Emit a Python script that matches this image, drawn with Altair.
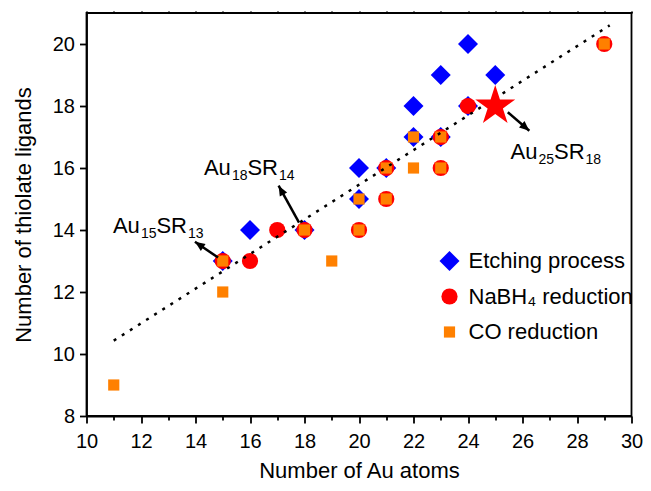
import math
import altair as alt
import pandas as pd

# ---------------- data ----------------
etch_x = [15, 16, 18, 20, 20, 21, 22, 22, 23, 23, 24, 24, 25]
etch_y = [13, 14, 14, 15, 16, 16, 17, 18, 17, 19, 18, 20, 19]

nabh4_x = [15, 16, 17, 18, 20, 21, 21, 23, 23, 24, 29]
nabh4_y = [13, 13, 14, 14, 14, 15, 16, 16, 17, 18, 20]

co_x = [11, 15, 15, 18, 19, 20, 20, 21, 21, 22, 22, 23, 23, 29]
co_y = [9, 12, 13, 14, 13, 14, 15, 15, 16, 16, 17, 16, 17, 20]

series_names = ["Etching process", "NaBH\u2084 reduction", "CO reduction"]
series_colors = ["#0000FF", "#FF0000", "#FF8000"]
series_shapes = ["diamond", "circle", "square"]
series_sizes = [400, 125, 88]

star_x = [25]
star_y = [18]

fit_x = [11, 29.2]
fit_y = [10.43, 20.6]

ann_x = [10.97, 14.31, 25.56]
ann_y = [13.89, 15.78, 16.29]
ann_au = ["15", "18", "25"]
ann_sr = ["13", "14", "18"]

arr_x1 = [14.83, 17.80, 25.46]
arr_y1 = [13.11, 14.24, 17.80]
arr_x2 = [13.98, 17.05, 26.25]
arr_y2 = [13.62, 15.43, 17.20]

x_ticks = list(range(10, 31))
y_ticks = list(range(8, 21))

# ---------------- layout ----------------
W, H = 545, 403
XDOM = [10, 30]
YDOM = [8, 21]
FONT = "Liberation Sans"

pts = pd.concat([
    pd.DataFrame({"x": etch_x, "y": etch_y, "series": series_names[0]}),
    pd.DataFrame({"x": nabh4_x, "y": nabh4_y, "series": series_names[1]}),
    pd.DataFrame({"x": co_x, "y": co_y, "series": series_names[2]}),
], ignore_index=True)

fit = pd.DataFrame({"x": fit_x, "y": fit_y})
star = pd.DataFrame({"x": star_x, "y": star_y})
ann = pd.DataFrame({"x": ann_x, "y": ann_y, "au": ann_au, "sr": ann_sr,
                    "A": "Au", "S": "SR"})

pxx = W / (XDOM[1] - XDOM[0])
pxy = H / (YDOM[1] - YDOM[0])
angles = []
for a, b, c, d in zip(arr_x1, arr_y1, arr_x2, arr_y2):
    dxp = (c - a) * pxx
    dyp = -(d - b) * pxy
    angles.append(math.degrees(math.atan2(dxp, -dyp)) % 360)
arr = pd.DataFrame({"x1": arr_x1, "y1": arr_y1, "x2": arr_x2, "y2": arr_y2,
                    "ang": angles})

xs = alt.Scale(domain=XDOM, nice=False, zero=False)
ys = alt.Scale(domain=YDOM, nice=False, zero=False)

even_size = {"condition": {"test": "datum.value % 2 === 0", "value": 7}, "value": 4}

x_bottom = alt.X("x:Q", scale=xs, axis=alt.Axis(
    orient="bottom", values=x_ticks, title="Number of Au atoms",
    labelExpr="datum.value % 2 === 0 ? datum.label : ''",
    tickSize=even_size, labelPadding=8, titlePadding=9,
    labelOverlap=False, labelFlush=False))
x_top = alt.X("x:Q", scale=xs, axis=alt.Axis(
    orient="top", values=x_ticks, labels=False, title=None, tickSize=2,
    domain=False))
x_none = alt.X("x:Q", scale=xs, axis=None)
y_left = alt.Y("y:Q", scale=ys, axis=alt.Axis(
    orient="left", values=y_ticks, title="Number of thiolate ligands",
    labelExpr="datum.value % 2 === 0 ? datum.label : ''",
    tickSize=even_size, labelPadding=5, titlePadding=17,
    labelOverlap=False, labelFlush=False))

legend = alt.Legend(orient="none", legendX=352, legendY=237, title=None,
                    labelFont=FONT, labelFontSize=22, labelColor="black",
                    labelOffset=8, rowPadding=13.5, symbolOpacity=1, padding=0,
                    symbolStrokeWidth=0, labelLimit=400)

points = alt.Chart(pts).mark_point(filled=True, opacity=1, strokeWidth=0).encode(
    x=x_bottom, y=y_left,
    color=alt.Color("series:N", scale=alt.Scale(domain=series_names, range=series_colors), legend=legend),
    shape=alt.Shape("series:N", scale=alt.Scale(domain=series_names, range=series_shapes), legend=legend),
    size=alt.Size("series:N", scale=alt.Scale(domain=series_names, range=series_sizes), legend=legend),
)

line = alt.Chart(fit).mark_line(color="black", strokeDash=[3, 6.6], strokeWidth=2.5).encode(
    x=x_top, y=y_left)

STAR = ("M0,-1L0.2245,-0.309L0.9511,-0.309L0.3633,0.118L0.5878,0.809L0,0.382"
        "L-0.5878,0.809L-0.3633,0.118L-0.9511,-0.309L-0.2245,-0.309Z")
star_l = alt.Chart(star).mark_point(shape=STAR, filled=True, color="#FF0000",
                                    size=1764, opacity=1, strokeWidth=0).encode(
    x=x_none, y=y_left)

rules = alt.Chart(arr).mark_rule(color="black", strokeWidth=2.5).encode(
    x=alt.X("x1:Q", scale=xs, axis=None), y=alt.Y("y1:Q", scale=ys),
    x2="x2:Q", y2="y2:Q")

HEAD = "M0,0L-0.42,1L0.42,1Z"
heads = alt.Chart(arr).mark_point(shape=HEAD, filled=True, color="black",
                                  size=400, opacity=1, strokeWidth=0).encode(
    x=alt.X("x2:Q", scale=xs, axis=None), y=alt.Y("y2:Q", scale=ys),
    angle=alt.Angle("ang:Q", scale=None))

def txt(field, dx, dy, size):
    return alt.Chart(ann).mark_text(align="left", baseline="alphabetic", dx=dx, dy=dy,
                                    fontSize=size, font=FONT, color="black").encode(
        x=x_none, y=y_left, text=f"{field}:N")

texts = [txt("A", 0, 0, 22), txt("au", 28, 5, 14), txt("S", 43.5, 0, 22), txt("sr", 75, 5, 14)]

chart = alt.layer(points, line, star_l, rules, heads, *texts).resolve_axis(
    x="independent").properties(
    width=W, height=H,
    padding={"left": 78.5, "top": 5, "right": 11.5, "bottom": 67},
    autosize=alt.AutoSizeParams(type="none"),
).configure_view(stroke="black", strokeWidth=1.8).configure_axis(
    labelFont=FONT, labelFontSize=20, labelColor="black",
    titleFont=FONT, titleFontSize=22, titleFontWeight="normal", titleColor="black",
    domainColor="black", tickColor="black", domainWidth=1.8, tickWidth=1.8, grid=False,
)

chart.save("out.html", embed_options={"renderer": "svg", "actions": False})
